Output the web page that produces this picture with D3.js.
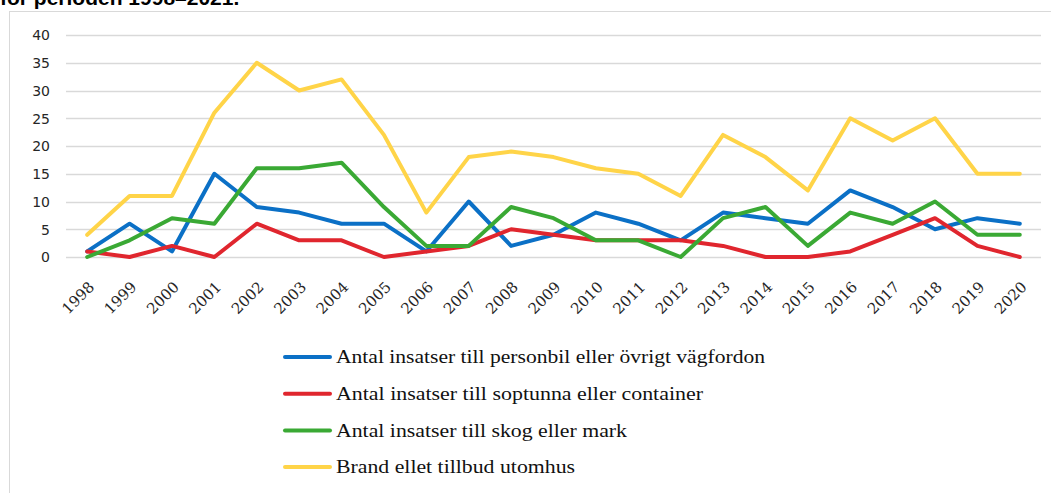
<!DOCTYPE html>
<html>
<head>
<meta charset="utf-8">
<script src="https://cdn.jsdelivr.net/npm/d3@7"></script>
<style>
  body { margin: 0; background: #fff; }
  svg { display: block; }
</style>
</head>
<body>
<svg id="chart" width="1051" height="493"></svg>
<script>
(function() {
  var years = ["1998", "1999", "2000", "2001", "2002", "2003", "2004", "2005", "2006", "2007", "2008",
    "2009", "2010", "2011", "2012", "2013", "2014", "2015", "2016", "2017", "2018", "2019", "2020"];
  var yTicks = [0, 5, 10, 15, 20, 25, 30, 35, 40];

  var personbil = [1, 6, 1, 15, 9, 8, 6, 6, 1, 10, 2, 4, 8, 6, 3, 8, 7, 6, 12, 9, 5, 7, 6];
  var soptunna = [1, 0, 2, 0, 6, 3, 3, 0, 1, 2, 5, 4, 3, 3, 3, 2, 0, 0, 1, 4, 7, 2, 0];
  var skog = [0, 3, 7, 6, 16, 16, 17, 9, 2, 2, 9, 7, 3, 3, 0, 7, 9, 2, 8, 6, 10, 4, 4];
  var utomhus = [4, 11, 11, 26, 35, 30, 32, 22, 8, 18, 19, 18, 16, 15, 11, 22, 18, 12, 25, 21, 25, 15, 15];

  var seriesNames = [
    "Antal insatser till personbil eller övrigt vägfordon",
    "Antal insatser till soptunna eller container",
    "Antal insatser till skog eller mark",
    "Brand ellet tillbud utomhus"
  ];
  var seriesColors = ["#0b70c6", "#e0262e", "#3aa934", "#ffd448"];
  var seriesValues = [personbil, soptunna, skog, utomhus];
  var legendWidths = [429, 367, 291, 239];

  var svg = d3.select("#chart");

  // caption above the chart, cut off by the top edge as in the source
  svg.append("text")
    .attr("x", 0).attr("y", 5)
    .style("font-family", "'Liberation Sans', Arial, sans-serif")
    .style("font-weight", "bold").style("font-size", "21px")
    .attr("fill", "#000")
    .text("för perioden 1998–2021.");

  // chart border
  svg.append("rect")
    .attr("x", 9.5).attr("y", 11.5)
    .attr("width", 1060).attr("height", 500)
    .attr("fill", "#fff").attr("stroke", "#d9d9d9").attr("stroke-width", 1);

  var x = d3.scaleBand().domain(years).range([66, 1041]);
  var y = d3.scaleLinear().domain([0, 40]).range([257, 35]);

  var grid = svg.append("g").attr("class", "grid");
  grid.selectAll("line").data(yTicks).enter().append("line")
    .attr("x1", 66).attr("x2", 1041)
    .attr("y1", function(d) { return Math.round(y(d)) + 0.5; })
    .attr("y2", function(d) { return Math.round(y(d)) + 0.5; })
    .attr("stroke", "#d9d9d9").attr("stroke-width", 1.5);

  var yAxis = d3.axisLeft(y).tickValues(yTicks).tickSize(0).tickPadding(0);
  var yg = svg.append("g").attr("transform", "translate(50,0)").call(yAxis);
  yg.select(".domain").remove();
  yg.selectAll("text")
    .style("font-family", "'DejaVu Sans', sans-serif")
    .style("font-size", "14px").attr("fill", "#262626")
    .attr("dy", "0.35em");

  var xAxis = d3.axisBottom(x).tickSize(0).tickPadding(0);
  var xg = svg.append("g").attr("transform", "translate(0,257)").call(xAxis);
  xg.select(".domain").remove();
  xg.selectAll("text")
    .style("font-family", "'DejaVu Serif', serif")
    .style("font-size", "15px").attr("fill", "#262626")
    .attr("text-anchor", "end")
    .attr("dy", 0)
    .attr("transform", "translate(8,31) rotate(-45)");

  var line = d3.line()
    .x(function(d, i) { return x(years[i]) + x.bandwidth() / 2; })
    .y(function(d) { return y(d); });

  svg.append("g").selectAll("path").data(seriesValues).enter().append("path")
    .attr("d", line)
    .attr("fill", "none")
    .attr("stroke", function(d, i) { return seriesColors[i]; })
    .attr("stroke-width", 4)
    .attr("stroke-linejoin", "round")
    .attr("stroke-linecap", "round");

  var legend = svg.append("g").selectAll("g").data(seriesNames).enter().append("g")
    .attr("transform", function(d, i) { return "translate(285," + (357 + i * 36.7) + ")"; });
  legend.append("line")
    .attr("x1", 0).attr("x2", 45).attr("y1", 0).attr("y2", 0)
    .attr("stroke", function(d, i) { return seriesColors[i]; })
    .attr("stroke-width", 4).attr("stroke-linecap", "round");
  legend.append("text")
    .attr("x", 51).attr("y", 0).attr("dy", "0.35em")
    .style("font-family", "'Liberation Serif', serif")
    .style("font-size", "18px").attr("fill", "#111")
    .attr("textLength", function(d, i) { return legendWidths[i]; })
    .attr("lengthAdjust", "spacingAndGlyphs")
    .text(function(d) { return d; });
}).call(this);
</script>
</body>
</html>
